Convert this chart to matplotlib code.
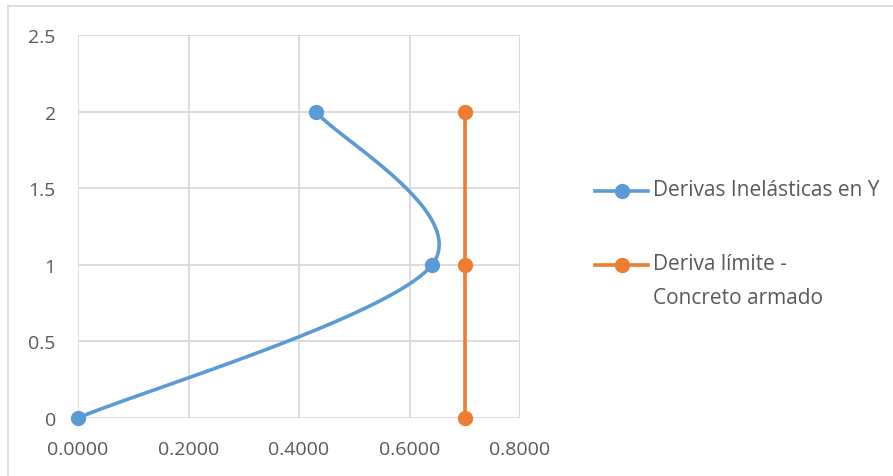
import matplotlib.pyplot as plt
import numpy as np
from matplotlib.lines import Line2D

# Derivas inelasticas en Y
deriva_y = [0.0000, 0.6407, 0.4308]
nivel_y = [0, 1, 2]

# Deriva limite - concreto armado
deriva_lim = [0.7005, 0.7005, 0.7005]
nivel_lim = [0, 1, 2]

labels = ['Derivas Inelásticas en Y', 'Deriva límite -\nConcreto armado']
x_ticks = [0.0, 0.2, 0.4, 0.6, 0.8]
y_ticks = [0, 0.5, 1, 1.5, 2, 2.5]

blue = '#5B9BD5'
orange = '#ED7D31'
grid_c = '#D9D9D9'
text_c = '#595959'

plt.rcParams['font.family'] = ['Open Sans', 'DejaVu Sans']
fs = 14


def smooth(ax, xs, ys, n=60):
    # Excel-like smoothing: Catmull-Rom bezier done in pixel space
    pts = ax.transData.transform(np.column_stack([xs, ys]))
    P = np.vstack([pts[0], pts, pts[-1]])
    out = []
    for i in range(1, len(P) - 2):
        p0, p1, p2, p3 = P[i - 1], P[i], P[i + 1], P[i + 2]
        c1 = p1 + (p2 - p0) / 6
        c2 = p2 - (p3 - p1) / 6
        t = np.linspace(0, 1, n)[:, None]
        seg = ((1 - t) ** 3) * p1 + 3 * ((1 - t) ** 2) * t * c1 + 3 * (1 - t) * t ** 2 * c2 + t ** 3 * p2
        out.append(seg)
    out = np.vstack(out)
    back = ax.transData.inverted().transform(out)
    return back[:, 0], back[:, 1]


fig = plt.figure(figsize=(8.93, 4.77), dpi=100)
ax = fig.add_axes([78 / 893, 1 - 419 / 477, 442 / 893, 383 / 477])
ax.set_xlim(0, 0.8)
ax.set_ylim(0, 2.5)
ax.set_xticks(x_ticks)
ax.set_yticks(y_ticks)
ax.set_xticklabels(['{:.4f}'.format(v) for v in x_ticks])
ax.set_yticklabels(['{:g}'.format(v) for v in y_ticks])
ax.grid(True, color=grid_c, linewidth=1.3)
ax.set_axisbelow(True)
for s in ax.spines.values():
    s.set_visible(False)
ax.tick_params(length=0, labelsize=fs, colors=text_c)
ax.tick_params(axis='x', pad=15.5)
ax.tick_params(axis='y', pad=16)

sx, sy = smooth(ax, deriva_y, nivel_y)
ax.plot(sx, sy, color=blue, linewidth=2.6, solid_capstyle='round', clip_on=False)
ax.plot(deriva_y, nivel_y, 'o', color=blue, markersize=10, clip_on=False, zorder=3)
ax.plot(deriva_lim, nivel_lim, '-o', color=orange, linewidth=2.6, markersize=10, clip_on=False, zorder=3)

# legend drawn by hand so the marker sits on the first text line (as in Excel)
W, H = 893, 477
for color, label, y in [(blue, labels[0], 192), (orange, labels[1], 266)]:
    fig.add_artist(Line2D([595 / W, 648 / W], [1 - y / H] * 2, color=color, linewidth=2.6))
    fig.add_artist(Line2D([621.5 / W], [1 - y / H], color=color, marker='o', markersize=10))
    fig.text(653 / W, 1 - (y - 12) / H, label, color=text_c, fontsize=15,
             ha='left', va='top', linespacing=1.8)

# outer chart border (only top and left visible in the crop)
fig.add_artist(Line2D([8 / W, 8 / W], [0, 1 - 7 / H], color=grid_c, linewidth=1.2))
fig.add_artist(Line2D([8 / W, 1], [1 - 7 / H, 1 - 7 / H], color=grid_c, linewidth=1.2))

fig.savefig('out.png', dpi=100)
